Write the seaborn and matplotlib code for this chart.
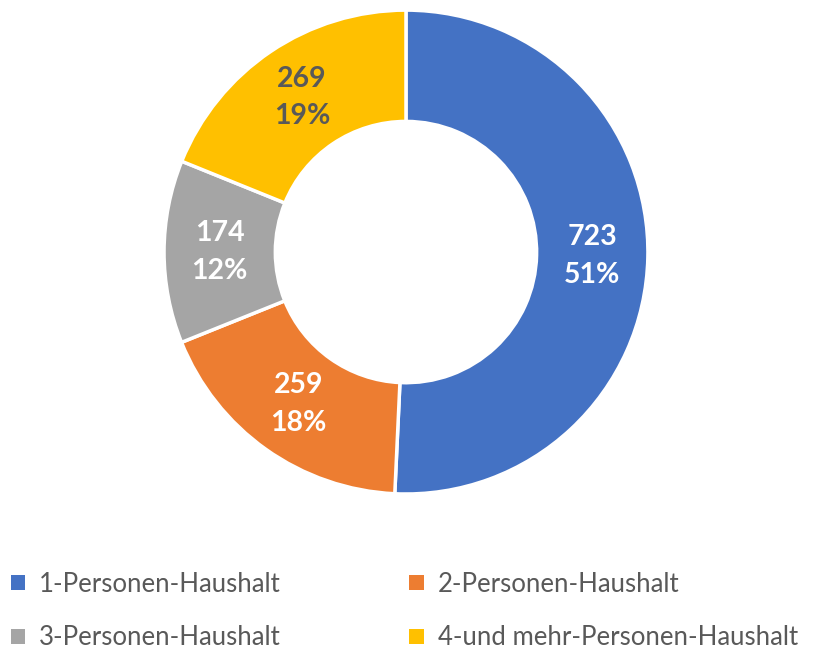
import matplotlib
matplotlib.use("Agg")
import matplotlib.pyplot as plt
import seaborn as sns
import numpy as np
from matplotlib.patches import Patch

sns.set_style("white")
plt.rcParams['font.family'] = ['Lato', 'DejaVu Sans']

categories = ['1-Personen-Haushalt', '2-Personen-Haushalt',
              '3-Personen-Haushalt', '4-und mehr-Personen-Haushalt']
counts = [723, 259, 174, 269]
percent_labels = ['51%', '18%', '12%', '19%']
colors = ['#4472C4', '#ED7D31', '#A5A5A5', '#FFC000']
label_colors = ['white', 'white', 'white', '#595959']

fig = plt.figure(figsize=(8.19, 6.53), dpi=100)
ax = fig.add_axes([0.2002, 0.2435, 0.591, 0.741])

wedges, _ = ax.pie(counts, colors=colors, startangle=90, counterclock=False,
                   radius=1.0,
                   wedgeprops=dict(width=0.46, edgecolor='white', linewidth=2.5))
ax.set_xlim(-1, 1)
ax.set_ylim(-1, 1)
ax.set_aspect('equal')

total = sum(counts)
r_mid = 1.0 - 0.46 / 2
angle = 90.0
for n, pct, c in zip(counts, percent_labels, label_colors):
    span = 360.0 * n / total
    mid = np.deg2rad(angle - span / 2)
    angle -= span
    x, y = r_mid * np.cos(mid), r_mid * np.sin(mid)
    ax.text(x, y + 0.078, str(n), ha='center', va='center', color=c,
            fontsize=20.5, fontweight='bold')
    ax.text(x, y - 0.078, pct, ha='center', va='center', color=c,
            fontsize=20.5, fontweight='bold')

# legend fills column-wise, reorder so rows read 1,2 / 3,4
order = [0, 2, 1, 3]
handles = [Patch(facecolor=colors[i], edgecolor='none') for i in order]
labels = [categories[i] for i in order]
leg = fig.legend(handles, labels, loc='lower left', ncol=2,
                 bbox_to_anchor=(11 / 819, 0.004), frameon=False,
                 borderpad=0, borderaxespad=0,
                 fontsize=18.5, handlelength=0.55, handleheight=0.55,
                 handletextpad=0.55, columnspacing=5.0, labelspacing=1.12,
                 labelcolor='#595959')

fig.savefig('out.png', dpi=100)
